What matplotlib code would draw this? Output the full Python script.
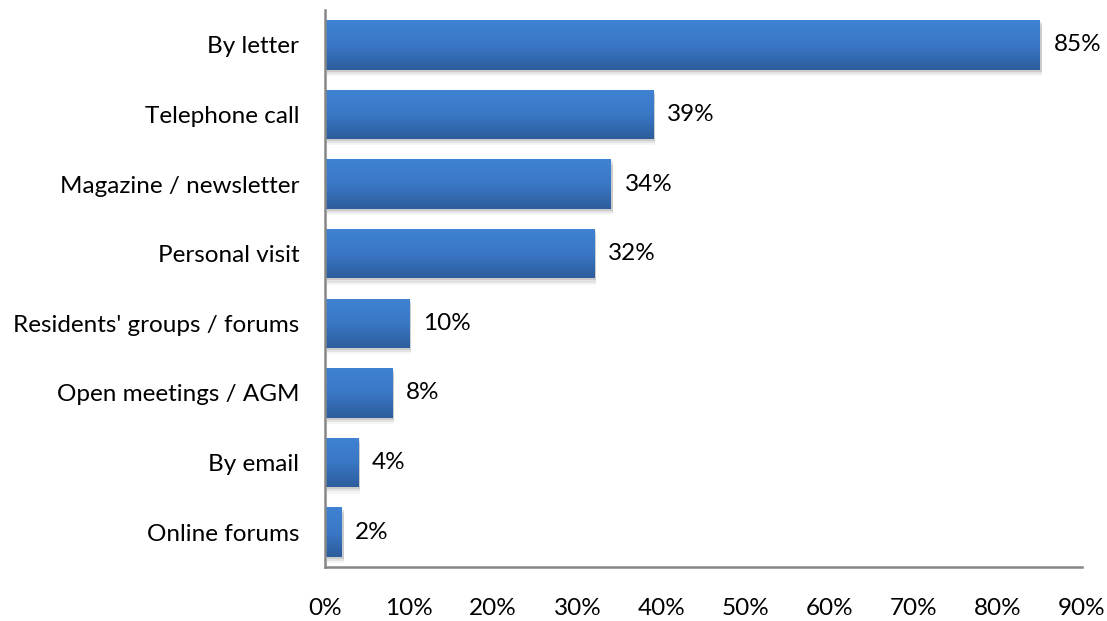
import numpy as np
import matplotlib.pyplot as plt
from matplotlib.colors import LinearSegmentedColormap
from matplotlib.patches import Rectangle

categories = ["By letter", "Telephone call", "Magazine / newsletter", "Personal visit",
              "Residents' groups / forums", "Open meetings / AGM", "By email", "Online forums"]
values = [85, 39, 34, 32, 10, 8, 4, 2]
xticks = [0, 10, 20, 30, 40, 50, 60, 70, 80, 90]

plt.rcParams['font.family'] = ['Lato', 'DejaVu Sans']
FS = 17.5

fig = plt.figure(figsize=(11.07, 6.21), dpi=100)
ax = fig.add_axes([0.2936, 0.087, 0.9774 - 0.2936, 0.9839 - 0.087])

ypos = np.arange(len(categories))
height = 0.71
# light at top, darker towards the bottom
grad = LinearSegmentedColormap.from_list("bar", ["#3f82d3", "#3a78c6", "#2d5d9c"])
gimg = np.linspace(0, 1, 64).reshape(-1, 1)

for y, v in zip(ypos, values):
    # soft shadow
    for k, a in enumerate([0.10, 0.07, 0.04]):
        off = 0.03 + k * 0.03
        ax.add_patch(Rectangle((0.2, y - height / 2 + off), v, height, color="black",
                               alpha=a, lw=0, zorder=1))
    bar = ax.barh(y, v, height=height, color="#3a78c6", zorder=2)[0]
    im = ax.imshow(gimg, cmap=grad, aspect="auto", zorder=3,
                   extent=(0, v, y + height / 2, y - height / 2))
    im.set_clip_path(bar)
    ax.text(v + 1.6, y, f"{v}%", va="center", ha="left", fontsize=FS, color="black", zorder=4)

ax.set_xlim(0, 90)
ax.set_ylim(len(categories) - 0.5, -0.5)
ax.set_yticks(ypos)
ax.set_yticklabels(categories, fontsize=FS)
ax.set_xticks(xticks)
ax.set_xticklabels([f"{t}%" for t in xticks], fontsize=FS)
ax.tick_params(axis="both", length=0)
ax.tick_params(axis="x", pad=22)
ax.tick_params(axis="y", pad=18.5)
for side in ["top", "right"]:
    ax.spines[side].set_visible(False)
for side in ["left", "bottom"]:
    ax.spines[side].set_color("#868686")
    ax.spines[side].set_linewidth(1.8)
    ax.spines[side].set_zorder(5)

fig.savefig("out.png", dpi=100)
